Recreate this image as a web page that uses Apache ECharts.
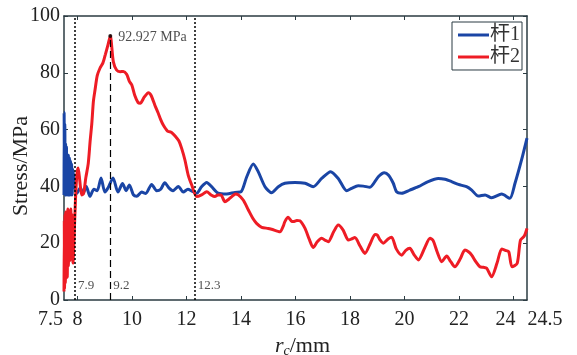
<!DOCTYPE html>
<html>
<head>
<meta charset="utf-8">
<script src="https://cdn.jsdelivr.net/npm/echarts@6/dist/echarts.min.js"></script>
<style>
  html, body { margin: 0; padding: 0; background: #fff; }
  #chart { width: 577px; height: 355px; }
</style>
</head>
<body>
<div id="chart"></div>
<script>
// Stress along r_c for rod 1 (杆1) and rod 2 (杆2): [r_c (mm), stress (MPa)]
const rod1 = [
  [7.5, 37], [7.505, 66], [7.515, 40], [7.53, 62], [7.545, 37], [7.56, 55], [7.575, 37],
  [7.59, 54], [7.605, 38], [7.62, 51], [7.64, 37], [7.66, 51], [7.68, 37], [7.7, 50],
  [7.72, 37], [7.74, 49], [7.76, 37], [7.78, 48], [7.8, 37], [7.82, 46], [7.84, 44.6],
  [7.9, 40], [7.97, 37.5], [8.1, 39.5], [8.2, 37.5], [8.32, 40], [8.45, 36.5], [8.6, 39],
  [8.72, 38.5], [8.86, 43], [9.0, 38], [9.12, 39.5], [9.3, 43], [9.48, 38], [9.65, 41],
  [9.78, 38.5], [9.9, 40.5], [10.05, 37], [10.17, 36.5], [10.35, 38], [10.5, 37.5],
  [10.72, 40.7], [10.9, 38.5], [11.05, 39], [11.2, 41.3], [11.35, 39.5], [11.5, 38.5],
  [11.7, 40], [11.88, 38], [12.05, 39], [12.2, 38.3], [12.37, 37.6], [12.55, 39.9],
  [12.74, 41.4], [12.92, 39.9], [13.16, 37.6], [13.47, 37.3], [13.78, 37.9], [14.0, 38.1],
  [14.21, 43.4], [14.45, 47.9], [14.63, 45.2], [14.88, 39.9], [15.12, 37.8], [15.37, 39.9],
  [15.61, 41.1], [15.98, 41.4], [16.35, 41.1], [16.65, 39.9], [16.96, 42.8], [17.29, 45.2],
  [17.57, 42.8], [17.88, 38.5], [18.06, 39.3], [18.3, 40.2], [18.49, 40.1], [18.73, 39.7],
  [19.04, 43.4], [19.26, 44.8], [19.41, 44], [19.59, 41.1], [19.71, 38.1], [19.9, 37.6],
  [20.2, 38.7], [20.51, 39.9], [20.87, 41.7], [21.24, 42.8], [21.49, 42.5], [21.73, 41.7],
  [21.98, 40.7], [22.28, 39.9], [22.47, 38.7], [22.71, 36.6], [22.96, 37], [23.2, 36],
  [23.57, 37.3], [23.87, 35.8], [24.06, 41.1], [24.3, 49.3], [24.5, 57]
];

const rod2 = [
  [7.5, 3], [7.51, 28], [7.52, 4], [7.535, 30], [7.55, 6], [7.565, 31], [7.58, 10],
  [7.6, 30], [7.62, 8], [7.64, 32], [7.66, 12], [7.69, 30], [7.72, 14], [7.75, 32],
  [7.78, 18], [7.8, 30], [7.83, 13], [7.87, 22], [7.92, 35], [7.97, 44], [8.02, 46.5],
  [8.08, 42], [8.15, 37], [8.22, 37.5], [8.3, 43], [8.39, 48], [8.46, 56], [8.52, 62],
  [8.58, 70], [8.64, 74], [8.72, 79], [8.82, 81.6], [8.93, 83.5], [9.02, 86.5], [9.12, 90],
  [9.2, 92.927], [9.31, 84], [9.43, 81], [9.56, 80.4], [9.68, 80.5], [9.8, 79.5], [9.9, 77],
  [9.99, 75.7], [10.1, 72], [10.22, 69.5], [10.3, 69.3], [10.45, 71.5], [10.6, 73],
  [10.7, 72], [10.84, 68.5], [10.95, 66], [11.05, 63.5], [11.15, 61.5], [11.3, 59.5],
  [11.45, 59], [11.6, 57.5], [11.72, 56], [11.82, 53.4], [11.94, 49.3], [12.06, 44],
  [12.19, 40.5], [12.37, 36.4], [12.55, 37], [12.74, 38.1], [12.9, 37], [13.04, 36.4],
  [13.15, 37], [13.26, 37], [13.41, 34.6], [13.55, 35.5], [13.66, 36.4], [13.8, 37.3],
  [13.9, 37], [14.08, 35.2], [14.27, 31.7], [14.45, 28.5], [14.57, 27], [14.76, 25.6],
  [15.0, 25.2], [15.12, 24.9], [15.43, 24], [15.55, 26], [15.61, 27.6], [15.73, 29.1],
  [15.85, 27.8], [15.92, 27.6], [16.05, 28], [16.16, 27.9], [16.35, 25.2], [16.5, 21.5],
  [16.65, 18.5], [16.8, 20.5], [16.96, 21.7], [17.1, 21], [17.2, 20.5], [17.4, 24],
  [17.57, 26.4], [17.75, 24.6], [17.94, 21.1], [18.06, 21.5], [18.18, 22], [18.37, 19],
  [18.55, 16.4], [18.75, 20], [18.92, 23.1], [19.0, 22.9], [19.1, 21.2], [19.22, 20],
  [19.4, 21.5], [19.53, 22.1], [19.7, 18], [19.9, 15.8], [20.05, 17.5], [20.2, 18.2],
  [20.35, 16], [20.51, 14.1], [20.75, 18.5], [20.94, 21.7], [21.05, 21], [21.2, 17],
  [21.37, 13.5], [21.55, 15.5], [21.7, 13.5], [21.85, 11.7], [22.05, 14.5], [22.22, 17.6],
  [22.35, 17], [22.47, 15.8], [22.62, 13.5], [22.77, 11.7], [22.9, 11.5], [23.02, 11.2],
  [23.2, 8.2], [23.4, 13], [23.57, 18], [23.7, 17.5], [23.83, 17], [23.95, 11.7],
  [24.14, 12.9], [24.26, 21.1], [24.4, 22.5], [24.5, 25.2]
];

const seriesNames = ['杆1', '杆2'];
const xTickValues = [8, 10, 12, 14, 16, 18, 20, 22, 24];
const xLabelValues = [7.5, 8, 10, 12, 14, 16, 18, 20, 22, 24, 24.5];
const boundaryLines = [7.9, 12.3];   // dotted section limits
const peak = [9.2, 92.927];          // rod 2 maximum stress

const AXIS = '#2b3b42';
const SERIF = "'Liberation Serif', 'Times New Roman', serif";
const CJK = "'Liberation Serif', 'Noto Sans CJK SC', serif";

const chart = echarts.init(document.getElementById('chart'), null, { renderer: 'canvas' });

function xLabel(v) {
  if (v === 7.5) return '{l|7.5}';
  if (v === 24.5) return '{r|24.5}';
  if (v === 24) return '{m|24}';
  return String(v);
}

const axisBase = {
  axisLine: { show: true, onZero: false, lineStyle: { color: AXIS, width: 1.5 } },
  splitLine: { show: false }
};

const option = {
  animation: false,
  backgroundColor: '#fff',
  grid: { left: 64, right: 50, top: 16, bottom: 55, containLabel: false, outerBoundsMode: 'none' },
  legend: {
    orient: 'vertical',
    left: 452, top: 22,
    data: seriesNames,
    icon: 'rect',
    itemWidth: 31, itemHeight: 3, itemGap: 2,
    padding: [3, 2, 3, 6],
    borderColor: AXIS, borderWidth: 1,
    backgroundColor: '#fff',
    textStyle: { fontFamily: CJK, fontSize: 20, color: '#333', padding: [0, 0, 0, -4] }
  },
  xAxis: [
    Object.assign({}, axisBase, {
      type: 'value', min: 7.5, max: 24.5, position: 'bottom',
      name: '{i|r}{s|c}{n|/mm}', nameLocation: 'middle', nameGap: 31,
      nameTextStyle: {
        rich: {
          i: { fontFamily: SERIF, fontStyle: 'italic', fontSize: 22, color: '#222', padding: [0, 0, 0, 14] },
          s: { fontFamily: SERIF, fontStyle: 'italic', fontSize: 14, color: '#222', padding: [10, 0, 0, 0] },
          n: { fontFamily: SERIF, fontSize: 22, color: '#222' }
        }
      },
      axisTick: { show: true, inside: true, length: 4, customValues: xTickValues, lineStyle: { color: AXIS } },
      axisLabel: {
        customValues: xLabelValues, margin: 10,
        fontFamily: SERIF, fontSize: 20, color: '#222',
        formatter: xLabel,
        rich: {
          l: { fontFamily: SERIF, fontSize: 20, color: '#222', padding: [0, 27, 0, 0] },
          r: { fontFamily: SERIF, fontSize: 20, color: '#222', padding: [0, 0, 0, 36] },
          m: { fontFamily: SERIF, fontSize: 20, color: '#222', padding: [0, 16, 0, 0] }
        }
      }
    }),
    Object.assign({}, axisBase, {
      type: 'value', min: 7.5, max: 24.5, position: 'top',
      axisTick: { show: true, inside: true, length: 4, customValues: xTickValues, lineStyle: { color: AXIS } },
      axisLabel: { show: false }
    })
  ],
  yAxis: [
    Object.assign({}, axisBase, {
      type: 'value', min: 0, max: 100, interval: 20, position: 'left',
      name: 'Stress/MPa', nameLocation: 'middle', nameGap: 32, nameRotate: 90,
      nameMoveOverlap: false,
      nameTextStyle: { fontFamily: SERIF, fontSize: 22, color: '#222', padding: [0, 16, 0, 0] },
      axisTick: { show: true, inside: true, length: 4, lineStyle: { color: AXIS } },
      axisLabel: { fontFamily: SERIF, fontSize: 20, color: '#222', margin: 4 }
    }),
    Object.assign({}, axisBase, {
      type: 'value', min: 0, max: 100, interval: 20, position: 'right',
      axisTick: { show: true, inside: true, length: 4, lineStyle: { color: AXIS } },
      axisLabel: { show: false }
    })
  ],
  series: [
    {
      name: seriesNames[0], type: 'line', data: rod1,
      showSymbol: false, smooth: 0.25, z: 3,
      lineStyle: { color: '#1a45a5', width: 3 },
      itemStyle: { color: '#1a45a5' }
    },
    {
      name: seriesNames[1], type: 'line', data: rod2,
      showSymbol: false, smooth: 0.25, z: 4,
      lineStyle: { color: '#ee1c25', width: 3 },
      itemStyle: { color: '#ee1c25' },
      markLine: {
        silent: true, symbol: 'none', animation: false,
        label: { show: false },
        data: [
          ...boundaryLines.map(v => ({ xAxis: v, lineStyle: { color: '#000', type: [2, 2], width: 1.5 } })),
          [
            { coord: [peak[0], 0], lineStyle: { color: '#000', type: [7, 4], width: 1.2 } },
            { coord: [peak[0], peak[1]] }
          ]
        ]
      }
    },
    {
      // position labels of the three marked radii
      type: 'scatter', symbolSize: 0, silent: true, z: 5,
      data: [boundaryLines[0], peak[0], boundaryLines[1]].map(v => [v, 0]),
      label: {
        show: true, position: [3, -21],
        fontFamily: SERIF, fontSize: 13, color: '#222',
        formatter: p => String(p.value[0])
      }
    },
    {
      // peak marker with its value
      type: 'scatter', symbol: 'circle', symbolSize: 4, silent: true, z: 6,
      itemStyle: { color: '#000' },
      data: [peak],
      label: {
        show: true, position: 'right', distance: 6, offset: [0, 1],
        fontFamily: SERIF, fontSize: 14, color: '#222',
        formatter: p => p.value[1] + ' MPa'
      }
    }
  ]
};

chart.setOption(option);
</script>
</body>
</html>
